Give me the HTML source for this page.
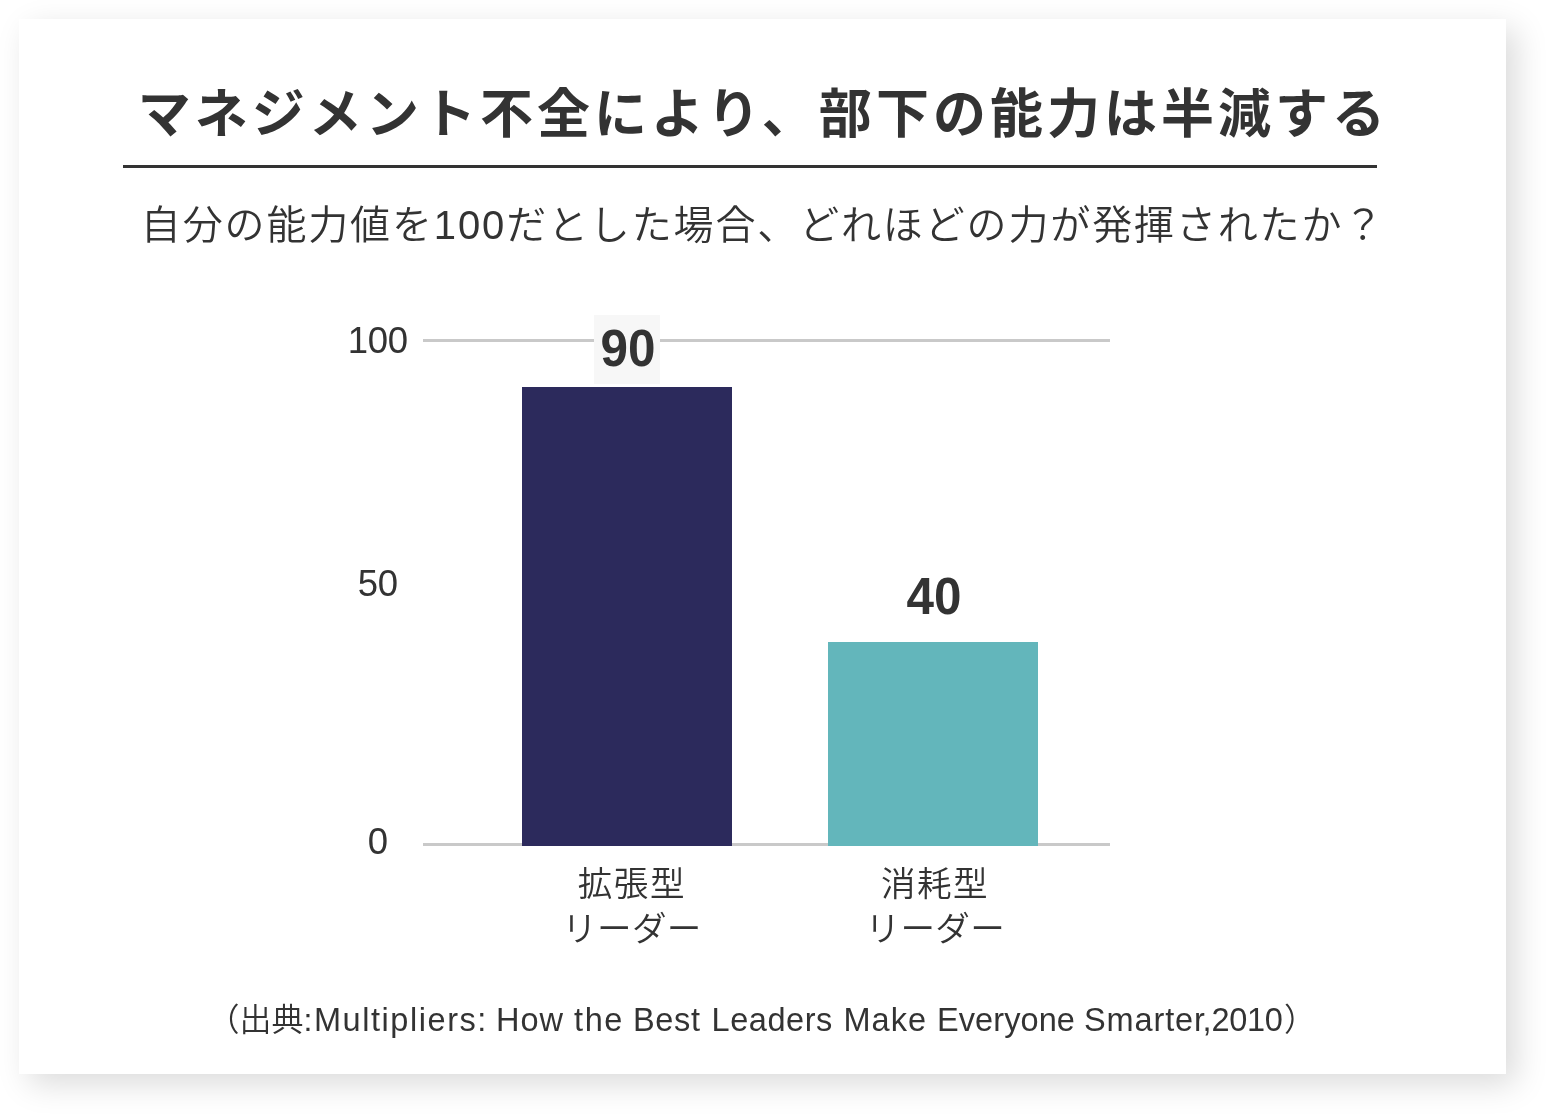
<!DOCTYPE html>
<html lang="ja">
<head>
<meta charset="utf-8">
<title>マネジメント不全により、部下の能力は半減する</title>
<style>
html,body{margin:0;padding:0;background:#fff;}
body{width:1548px;height:1116px;position:relative;overflow:hidden;color:#333;
  font-family:"Liberation Sans","Noto Sans CJK JP",sans-serif;}
.card{position:absolute;left:19px;top:19px;width:1487px;height:1055px;background:#fff;
  box-shadow:10px 10px 30px rgba(0,0,0,0.145);}
.abs{position:absolute;white-space:nowrap;line-height:1;}
.title{left:137.8px;top:88.1px;font-size:53px;font-weight:700;letter-spacing:4.02px;}
.rule{position:absolute;left:123px;top:164.5px;width:1254px;height:3px;background:#333;}
.sub{left:140.8px;top:204.8px;font-size:40px;font-weight:350;letter-spacing:1.86px;}
.grid{position:absolute;left:423px;width:687px;height:3px;background:#c9c9c9;}
.ylab{width:120px;left:317.7px;text-align:center;font-size:36.5px;font-weight:400;letter-spacing:-0.4px;}
.bar{position:absolute;width:210px;}
.val{font-size:52px;font-weight:700;text-align:center;width:210px;transform:scaleX(0.95);transform-origin:50% 50%;}
.valbg{position:absolute;left:594px;top:315px;width:66px;height:68.5px;background:#f7f7f7;}
.xlab{font-size:34.6px;font-weight:350;}
.src{top:1004.3px;font-size:32px;font-weight:350;}
.src span{position:absolute;top:0;white-space:pre;line-height:1;}
.lat{font-size:32.5px;}
</style>
</head>
<body>
<div class="card"></div>
<div class="abs title">マネジメント不全により、部下の能力は半減する</div>
<div class="rule"></div>
<div class="abs sub">自分の能力値を100だとした場合、どれほどの力が発揮されたか？</div>

<div class="grid" style="top:339px"></div>
<div class="grid" style="top:843px"></div>
<div class="abs ylab" style="top:323px">100</div>
<div class="abs ylab" style="top:566px">50</div>
<div class="abs ylab" style="top:824px">0</div>

<div class="valbg"></div>
<div class="bar" style="left:522px;top:387px;height:459px;background:#2c2a5c"></div>
<div class="bar" style="left:828px;top:642px;height:204px;background:#63b6bb"></div>
<div class="abs val" style="left:522.8px;top:322px">90</div>
<div class="abs val" style="left:828.8px;top:570.3px">40</div>

<div class="abs xlab" style="left:577.8px;top:866.7px;letter-spacing:1.5px">拡張型</div>
<div class="abs xlab" style="left:562.2px;top:911.5px;letter-spacing:0.3px">リーダー</div>
<div class="abs xlab" style="left:880.9px;top:866.7px;letter-spacing:1.5px">消耗型</div>
<div class="abs xlab" style="left:865.5px;top:911.5px;letter-spacing:0.3px">リーダー</div>

<div class="abs src" style="left:0">
<span style="left:207.4px">（出典:</span><span class="lat" style="left:314.0px;letter-spacing:1.55px">Multipliers: </span><span class="lat" style="left:496.0px;letter-spacing:1.0px">How </span><span class="lat" style="left:574.0px;letter-spacing:1.6px">the </span><span class="lat" style="left:633.0px;letter-spacing:0.67px">Best </span><span class="lat" style="left:711.5px;letter-spacing:0.57px">Leaders </span><span class="lat" style="left:843.5px;letter-spacing:1.0px">Make </span><span class="lat" style="left:937.0px;letter-spacing:0.09px">Everyone </span><span class="lat" style="left:1084.0px;letter-spacing:0.87px">Smarter</span><span class="lat" style="left:1202.5px;letter-spacing:0px">,</span><span class="lat" style="left:1211.5px;letter-spacing:-0.33px">2010</span><span style="left:1284px">）</span>
</div>
</body>
</html>
